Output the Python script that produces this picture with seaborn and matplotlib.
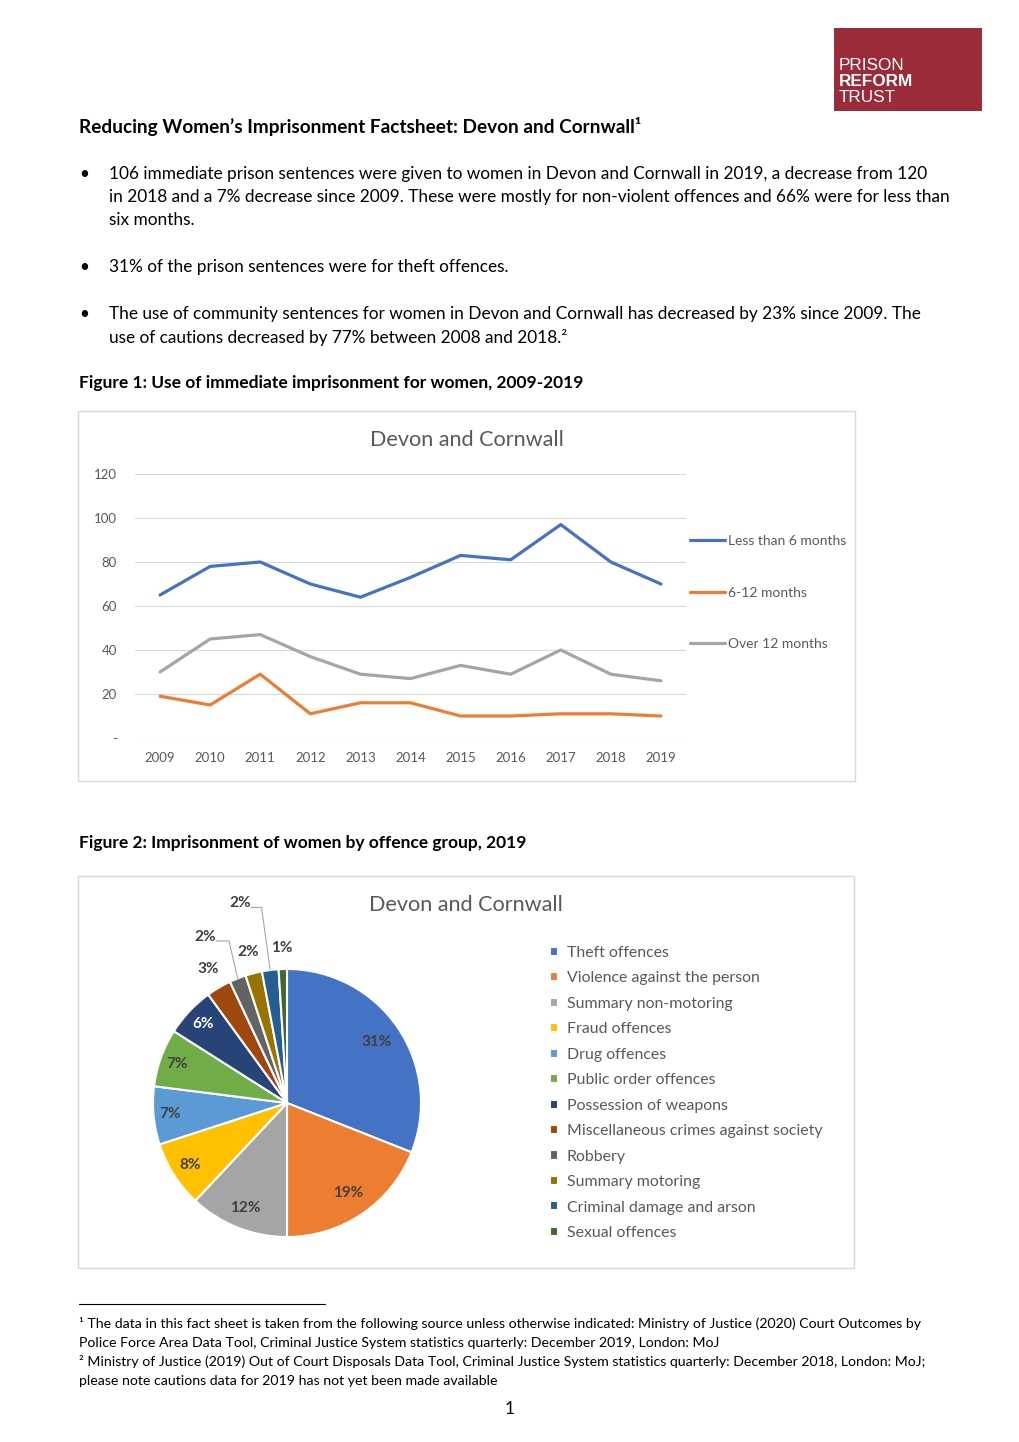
import numpy as np
import pandas as pd
import matplotlib
matplotlib.use("Agg")
import matplotlib.pyplot as plt
from matplotlib.patches import Rectangle
from matplotlib.lines import Line2D
import seaborn as sns

# ---------------- data ----------------
years = [2009, 2010, 2011, 2012, 2013, 2014, 2015, 2016, 2017, 2018, 2019]
less_6 = [65, 78, 80, 70, 64, 73, 83, 81, 97, 80, 70]
m6_12 = [19, 15, 29, 11, 16, 16, 10, 10, 11, 11, 10]
over_12 = [30, 45, 47, 37, 29, 27, 33, 29, 40, 29, 26]
series_names = ["Less than 6 months", "6-12 months", "Over 12 months"]
series_colors = ["#4472C4", "#ED7D31", "#A5A5A5"]
y_ticks = [0, 20, 40, 60, 80, 100, 120]
y_tick_labels = ["-", "20", "40", "60", "80", "100", "120"]

offences = ["Theft offences", "Violence against the person", "Summary non-motoring",
            "Fraud offences", "Drug offences", "Public order offences",
            "Possession of weapons", "Miscellaneous crimes against society",
            "Robbery", "Summary motoring", "Criminal damage and arson", "Sexual offences"]
offence_pct = [31, 19, 12, 8, 7, 7, 6, 3, 2, 2, 2, 1]
offence_colors = ["#4472C4", "#ED7D31", "#A5A5A5", "#FFC000", "#5B9BD5", "#70AD47",
                  "#264478", "#9E480E", "#636363", "#997300", "#255E91", "#43682B"]
# label placement style (radius in pie radii, angular shift in degrees, leader line, text colour)
lab_r = [0.81, 0.81, 0.84, 0.86, 0.88, 0.87, 0.86, 1.16, 1.38, 1.16, 1.53, 1.16]
lab_shift = [0, 0, 0, 0, 0, 0, 0, 0, 4.5, 0, 6, 0]
lab_leader = [False] * 8 + [True, False, True, False]
lab_color = ["#404040"] * 6 + ["white"] + ["#404040"] * 5

# ---------------- figure ----------------
sns.set_style("white")
plt.rcParams["font.family"] = ["Lato", "DejaVu Sans"]
W, H = 1020, 1442
fig = plt.figure(figsize=(W / 100, H / 100), dpi=100)
fig.patch.set_facecolor("white")
renderer = fig.canvas.get_renderer()


def fx(px):
    return px / W


def fy(py):
    return 1 - py / H


def fit(s, width_px, base=10, **kw):
    t = fig.text(0, 0, s, fontsize=base, **kw)
    w = t.get_window_extent(renderer).width
    t.remove()
    return base * width_px / w


def txt(x, y, s, **kw):
    fig.text(fx(x), fy(y), s, va="center", ha=kw.pop("ha", "left"), **kw)


# logo
fig.patches.append(Rectangle((fx(834), fy(111)), fx(982) - fx(834), fy(28) - fy(111),
                             transform=fig.transFigure, facecolor="#9C2B39", edgecolor="none"))
logo_fs = fit("REFORM", 74, family="Liberation Sans", weight="bold")
txt(839, 65, "PRISON", fontsize=logo_fs, color="white", family="Liberation Sans")
txt(839, 81, "REFORM", fontsize=logo_fs, color="white", family="Liberation Sans", weight="bold")
txt(839, 97, "TRUST", fontsize=logo_fs, color="white", family="Liberation Sans")

# heading
head_fs = fit("Reducing Women\u2019s Imprisonment Factsheet: Devon and Cornwall", 558, weight="bold")
txt(79, 126, "Reducing Women\u2019s Imprisonment Factsheet: Devon and Cornwall\u00b9",
    fontsize=head_fs, weight="bold", color="black")

bullets = [
    (174, ["106 immediate prison sentences were given to women in Devon and Cornwall in 2019, a decrease from 120",
           "in 2018 and a 7% decrease since 2009. These were mostly for non-violent offences and 66% were for less than",
           "six months."]),
    (267, ["31% of the prison sentences were for theft offences."]),
    (314, ["The use of community sentences for women in Devon and Cornwall has decreased by 23% since 2009. The",
           "use of cautions decreased by 77% between 2008 and 2018.\u00b2"]),
]
body_fs = (fit(bullets[0][1][0], 834) + fit(bullets[0][1][1], 834) + fit(bullets[2][1][0], 814)) / 3
for y0, lines in bullets:
    txt(84, y0, "\u2022", fontsize=body_fs, color="black", ha="center")
    for i, line in enumerate(lines):
        txt(109, y0 + 23 * i, line, fontsize=body_fs, color="black")

fig_fs = fit("Figure 1: Use of immediate imprisonment for women, 2009-2019", 506, weight="bold")
txt(79, 383, "Figure 1: Use of immediate imprisonment for women, 2009-2019",
    fontsize=fig_fs, weight="bold", color="black")
txt(79, 843, "Figure 2: Imprisonment of women by offence group, 2019",
    fontsize=fig_fs, weight="bold", color="black")

# chart boxes
for (x0, y0, x1, y1) in [(78, 411, 855, 781), (78, 876, 854, 1268)]:
    fig.patches.append(Rectangle((fx(x0), fy(y1)), fx(x1) - fx(x0), fy(y0) - fy(y1),
                                 transform=fig.transFigure, facecolor="none",
                                 edgecolor="#D9D9D9", linewidth=1))

grey = "#595959"
title_fs = fit("Devon and Cornwall", 194)

# ---------------- line chart ----------------
df = pd.DataFrame({
    "year": years * 3,
    "value": less_6 + m6_12 + over_12,
    "series": [series_names[0]] * len(years) + [series_names[1]] * len(years) + [series_names[2]] * len(years),
})
ax = fig.add_axes([fx(135), fy(738), fx(686) - fx(135), fy(474) - fy(738)])
sns.lineplot(data=df, x="year", y="value", hue="series", hue_order=series_names,
             palette=series_colors, linewidth=2.3, ax=ax, legend=False)
ax.set_xlim(years[0] - 0.5, years[-1] + 0.5)
ax.set_ylim(0, 120)
ax.set_yticks(y_ticks)
ax.set_yticklabels(y_tick_labels)
ax.set_xticks(years)
ax.set_xticklabels([str(y) for y in years])
ax.set_xlabel("")
ax.set_ylabel("")
for s in ax.spines.values():
    s.set_visible(False)
ax.grid(axis="y", color="#D9D9D9", linewidth=0.8)
ax.set_axisbelow(True)
ax.tick_params(axis="both", length=0, labelsize=9.5, colors=grey)
ax.tick_params(axis="y", pad=13)
ax.tick_params(axis="x", pad=10)
ax.patch.set_alpha(0)
txt(467, 440, "Devon and Cornwall", fontsize=title_fs, color=grey, ha="center")
handles = [Line2D([], [], color=c, linewidth=2.3) for c in series_colors]
ax.legend(handles, series_names, loc="upper left", bbox_to_anchor=(fx(690), fy(535)),
          bbox_transform=fig.transFigure, frameon=False, fontsize=10, handlelength=2.5,
          handletextpad=0.2, labelspacing=2.85, borderpad=0, borderaxespad=0, labelcolor=grey)

# ---------------- pie chart ----------------
cx, cy, R = 287, 1103, 134
ax2 = fig.add_axes([fx(cx - R), fy(cy + R), fx(2 * R), fy(0) - fy(2 * R)])
wedges, _ = ax2.pie(offence_pct, colors=offence_colors, startangle=90, counterclock=False,
                    wedgeprops=dict(edgecolor="white", linewidth=1.5))
ax2.set_xlim(-1, 1)
ax2.set_ylim(-1, 1)
ax2.set_aspect("equal")
ax2.axis("off")
for i, w in enumerate(wedges):
    mid = (w.theta1 + w.theta2) / 2
    ang = np.deg2rad(mid + lab_shift[i])
    tx, ty = lab_r[i] * np.cos(ang), lab_r[i] * np.sin(ang)
    ax2.text(tx, ty, f"{offence_pct[i]}%", ha="center", va="center", fontsize=11,
             weight="bold", color=lab_color[i])
    if lab_leader[i]:
        ex, ey = np.cos(np.deg2rad(mid)), np.sin(np.deg2rad(mid))
        ly = ty - 0.03
        ax2.plot([tx + 0.08, ex - 0.065, ex], [ly, ly, ey], color="#A6A6A6",
                 linewidth=0.8, clip_on=False)
txt(466, 905, "Devon and Cornwall", fontsize=title_fs, color=grey, ha="center")
leg_fs = fit("Miscellaneous crimes against society", 256)
ax2.legend(wedges, offences, loc="upper left", bbox_to_anchor=(fx(550), fy(946)),
           bbox_transform=fig.transFigure, frameon=False, fontsize=leg_fs,
           handlelength=0.5, handleheight=0.5, handletextpad=0.55, labelspacing=0.72,
           borderpad=0, borderaxespad=0, labelcolor=grey)

# ---------------- footnotes ----------------
fig.add_artist(Line2D([fx(79), fx(325)], [fy(1304), fy(1304)], transform=fig.transFigure,
                      color="black", linewidth=0.8))
foot_fs = fit("\u00b9 The data in this fact sheet is taken from the following source unless otherwise indicated: Ministry of Justice (2020) Court Outcomes by", 847)
foot = ["\u00b9 The data in this fact sheet is taken from the following source unless otherwise indicated: Ministry of Justice (2020) Court Outcomes by",
        "Police Force Area Data Tool, Criminal Justice System statistics quarterly: December 2019, London: MoJ",
        "\u00b2 Ministry of Justice (2019) Out of Court Disposals Data Tool, Criminal Justice System statistics quarterly: December 2018, London: MoJ;",
        "please note cautions data for 2019 has not yet been made available"]
for i, line in enumerate(foot):
    txt(79, 1324 + 19 * i, line, fontsize=foot_fs, color="black")
txt(510, 1409, "1", fontsize=body_fs, color="black", ha="center")

fig.savefig("out.png", dpi=100)
